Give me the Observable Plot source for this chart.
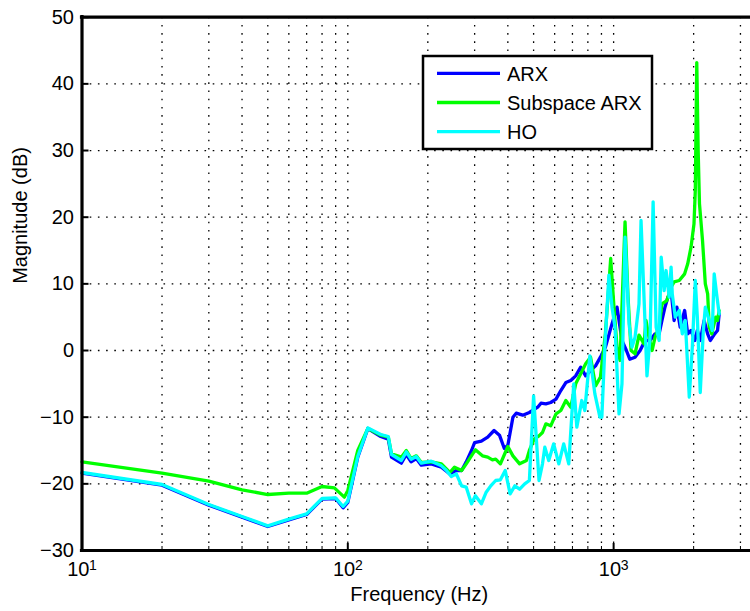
<!DOCTYPE html>
<html><head><meta charset="utf-8">
<script src="https://cdn.jsdelivr.net/npm/d3@7"></script>
<script src="https://cdn.jsdelivr.net/npm/@observablehq/plot@0.6"></script>
<style>body{margin:0;background:#fff;overflow:hidden}</style>
</head><body><div id="chart"></div>
<script>
// ---------- data ----------
const seriesNames = ["ARX", "Subspace ARX", "HO"];
const seriesColors = ["#0000ff", "#00ff00", "#00ffff"];

const arxFreq = [10,20,30,40,50,60,70,80,90,96,100,109,119,133,142,146,159,166,173,181,189,206,225,242,256,268,279,292,300,318,336,355,372,388,400,418,430,455,482,518,533,556,580,607,633,661,690,720,752,785,819,855,892,931,986,1030,1075,1117,1150,1204,1258,1313,1371,1432,1483,1520,1560,1600,1650,1689,1730,1780,1850,1900,1955,2020,2065,2118,2190,2258,2310,2400,2460,2495];
const arxMag  = [-18.4,-20.2,-23.2,-25.0,-26.4,-25.4,-24.6,-22.3,-22.2,-23.6,-22.8,-16.0,-11.7,-12.9,-13.3,-16.0,-16.9,-15.6,-16.7,-16.2,-17.2,-17.0,-17.5,-18.5,-18.0,-18.0,-16.7,-15.0,-13.8,-13.6,-13.0,-12.0,-12.7,-14.7,-14.2,-10.0,-9.4,-9.7,-9.3,-8.5,-7.9,-8.0,-7.8,-7.3,-6.0,-4.8,-4.5,-3.8,-2.5,-3.8,-3.0,-2.3,-1.0,0.5,4.0,6.5,1.5,0.0,-1.3,-1.0,0.0,1.5,1.5,2.5,2.5,4.5,6.5,8.0,8.5,4.5,6.5,3.5,6.0,2.5,3.0,1.5,3.0,1.5,4.5,2.5,1.5,2.5,3.0,5.5];

const subFreq = [10,20,30,40,50,60,70,80,89,97,100,109,119,133,142,146,159,166,173,181,189,206,225,242,252,268,279,295,302,321,336,350,360,375,400,418,443,470,482,502,524,540,556,580,607,633,661,690,720,752,785,819,855,892,931,975,1003,1030,1057,1104,1133,1163,1204,1246,1301,1324,1358,1396,1432,1483,1520,1586,1645,1689,1766,1850,1900,1955,2006,2029,2055,2080,2104,2160,2213,2258,2290,2340,2420,2460,2495];
const subMag  = [-16.7,-18.4,-19.6,-20.9,-21.6,-21.4,-21.4,-20.4,-20.6,-22.0,-21.0,-15.0,-11.7,-12.7,-13.0,-15.5,-16.0,-15.0,-16.2,-15.8,-16.8,-16.7,-17.0,-18.3,-17.5,-18.0,-17.0,-15.5,-14.9,-15.8,-16.0,-16.4,-16.3,-17.0,-14.4,-15.8,-17.0,-16.5,-15.0,-13.3,-12.8,-12.3,-11.0,-11.3,-9.5,-9.0,-7.5,-8.5,-5.0,-3.5,-2.0,-1.0,-5.3,-4.0,2.5,13.8,6.5,0.5,-1.5,19.3,8.0,0.0,-0.5,2.3,1.0,4.5,2.0,0.0,2.0,3.5,7.0,7.5,9.5,10.3,10.5,11.5,13.0,15.5,19.0,24.0,43.2,30.0,22.0,16.5,10.0,8.5,3.5,2.5,5.0,4.5,6.0];

const hoFreq = [10,20,30,40,50,60,70,80,90,96,100,109,119,133,142,146,159,166,173,181,189,206,225,235,245,256,268,279,292,302,318,331,345,360,375,391,408,425,443,463,482,500,524,540,551,570,595,622,649,678,708,727,759,779,814,850,888,903,927,960,986,1012,1048,1075,1104,1143,1172,1204,1246,1268,1313,1335,1371,1408,1445,1483,1510,1549,1575,1618,1645,1662,1706,1766,1813,1860,1926,1977,2029,2065,2118,2175,2213,2290,2350,2390,2440,2495];
const hoMag  = [-18.3,-20.1,-23.1,-24.9,-26.3,-25.3,-24.5,-22.2,-22.1,-23.4,-22.6,-15.9,-11.6,-12.6,-12.9,-15.6,-16.5,-15.2,-16.3,-15.9,-16.9,-16.6,-17.3,-18.0,-18.9,-18.5,-20.3,-20.5,-23.0,-21.8,-23.0,-21.3,-20.3,-19.5,-19.4,-18.0,-21.5,-20.3,-20.8,-20.0,-19.5,-6.8,-19.5,-17.0,-14.5,-16.5,-14.0,-17.0,-14.0,-17.0,-5.0,-11.5,-7.5,-9.0,-0.8,-6.5,-10.0,-10.0,0.5,11.3,6.5,3.5,-9.5,-5.0,17.0,4.0,0.5,2.0,7.0,19.5,4.0,-3.8,2.0,22.3,3.5,1.5,14.0,9.0,12.0,8.0,12.5,8.5,5.0,6.0,2.5,4.5,-7.0,0.5,10.5,5.0,-6.3,3.0,6.5,4.5,3.0,11.5,8.5,5.5];

const yTicks = [-30,-20,-10,0,10,20,30,40,50];
const xMajor = [10,100,1000];
const xMinor = [20,30,40,50,60,70,80,90,200,300,400,500,600,700,800,900,2000,3000];
const xLabel = "Frequency (Hz)";
const yLabel = "Magnitude (dB)";

// ---------- layout ----------
const W = 750, H = 611;
const mL = 81.5, mR = 0, mT = 16.7, mB = 61;
const plotW = W - mL - mR, plotH = H - mT - mB;
const FONT = "Helvetica, Arial, 'Liberation Sans', sans-serif";

const rows = [
  ...arxFreq.map((f, i) => ({f, m: arxMag[i], s: seriesNames[0]})),
  ...subFreq.map((f, i) => ({f, m: subMag[i], s: seriesNames[1]})),
  ...hoFreq.map((f, i) => ({f, m: hoMag[i], s: seriesNames[2]}))
];
const fmt = d => d < 0 ? "\u2212" + Math.abs(d) : String(d);
const dotted = "1.6,6.6";

const chart = Plot.plot({
  width: W, height: H,
  marginLeft: mL, marginRight: mR, marginTop: mT, marginBottom: mB,
  style: {fontFamily: FONT, fontSize: "20px", background: "#fff", color: "#000", overflow: "visible"},
  x: {type: "log", domain: [10, 3273], axis: null},
  y: {domain: [-30, 50], axis: null},
  color: {domain: seriesNames, range: seriesColors},
  marks: [
    Plot.ruleX([...xMajor, ...xMinor], {x: d => d, stroke: "#000", strokeWidth: 1.3, strokeDasharray: dotted}),
    Plot.ruleY(yTicks, {y: d => d, stroke: "#000", strokeWidth: 1.3, strokeDasharray: dotted}),
    Plot.line(rows, {x: "f", y: "m", z: "s", stroke: "s", strokeWidth: 3.3, strokeLinejoin: "round", strokeLinecap: "round"}),
    // axes frame (left, bottom, top)
    Plot.ruleY([-30, 50], {y: d => d, stroke: "#000", strokeWidth: 3.2, strokeLinecap: "square"}),
    Plot.ruleX([10], {x: d => d, stroke: "#000", strokeWidth: 3.2, strokeLinecap: "square"}),
    // inward ticks
    Plot.tickY(yTicks, {y: d => d, insetRight: plotW - 7, stroke: "#000", strokeWidth: 2}),
    Plot.tickX(xMajor, {x: d => d, insetTop: plotH - 7, stroke: "#000", strokeWidth: 2}),
    Plot.tickX(xMinor, {x: d => d, insetTop: plotH - 4, stroke: "#000", strokeWidth: 1}),
    // tick labels
    Plot.text(yTicks, {y: d => d, frameAnchor: "left", dx: -8, textAnchor: "end", text: fmt, fontSize: 20, fill: "#000"}),
    Plot.text(xMajor, {x: d => d, frameAnchor: "bottom", dx: -3.7, dy: 25.5, text: () => "10", fontSize: 20, fill: "#000"}),
    Plot.text(xMajor, {x: d => d, frameAnchor: "bottom", dx: 11, dy: 19.5, text: d => String(Math.round(Math.log10(d))), fontSize: 14, fill: "#000"}),
    // axis titles
    Plot.text([xLabel], {frameAnchor: "bottom", dx: 3, dy: 50.5, text: d => d, fontSize: 20, fill: "#000"}),
    Plot.text([yLabel], {frameAnchor: "left", dx: -61, rotate: -90, text: d => d, fontSize: 20, fill: "#000"})
  ]
});
document.getElementById("chart").appendChild(chart);

// ---------- legend (inside the axes) ----------
const svg = d3.select(chart);
const lg = svg.append("g").attr("font-family", FONT).attr("font-size", 20).attr("text-anchor", "start");
const box = {x: 423, y: 56, w: 229, h: 93};
lg.append("rect").attr("x", box.x).attr("y", box.y).attr("width", box.w).attr("height", box.h)
  .attr("fill", "#fff").attr("stroke", "#000").attr("stroke-width", 2.5);
seriesNames.forEach((name, i) => {
  const cy = box.y + 17.3 + i * 29.2;
  lg.append("line").attr("x1", box.x + 14).attr("x2", box.x + 77).attr("y1", cy).attr("y2", cy)
    .attr("stroke", seriesColors[i]).attr("stroke-width", 3.3);
  lg.append("text").attr("x", box.x + 84).attr("y", cy).attr("dy", "0.36em")
    .attr("text-anchor", "start").attr("fill", "#000").text(name);
});
</script></body></html>
